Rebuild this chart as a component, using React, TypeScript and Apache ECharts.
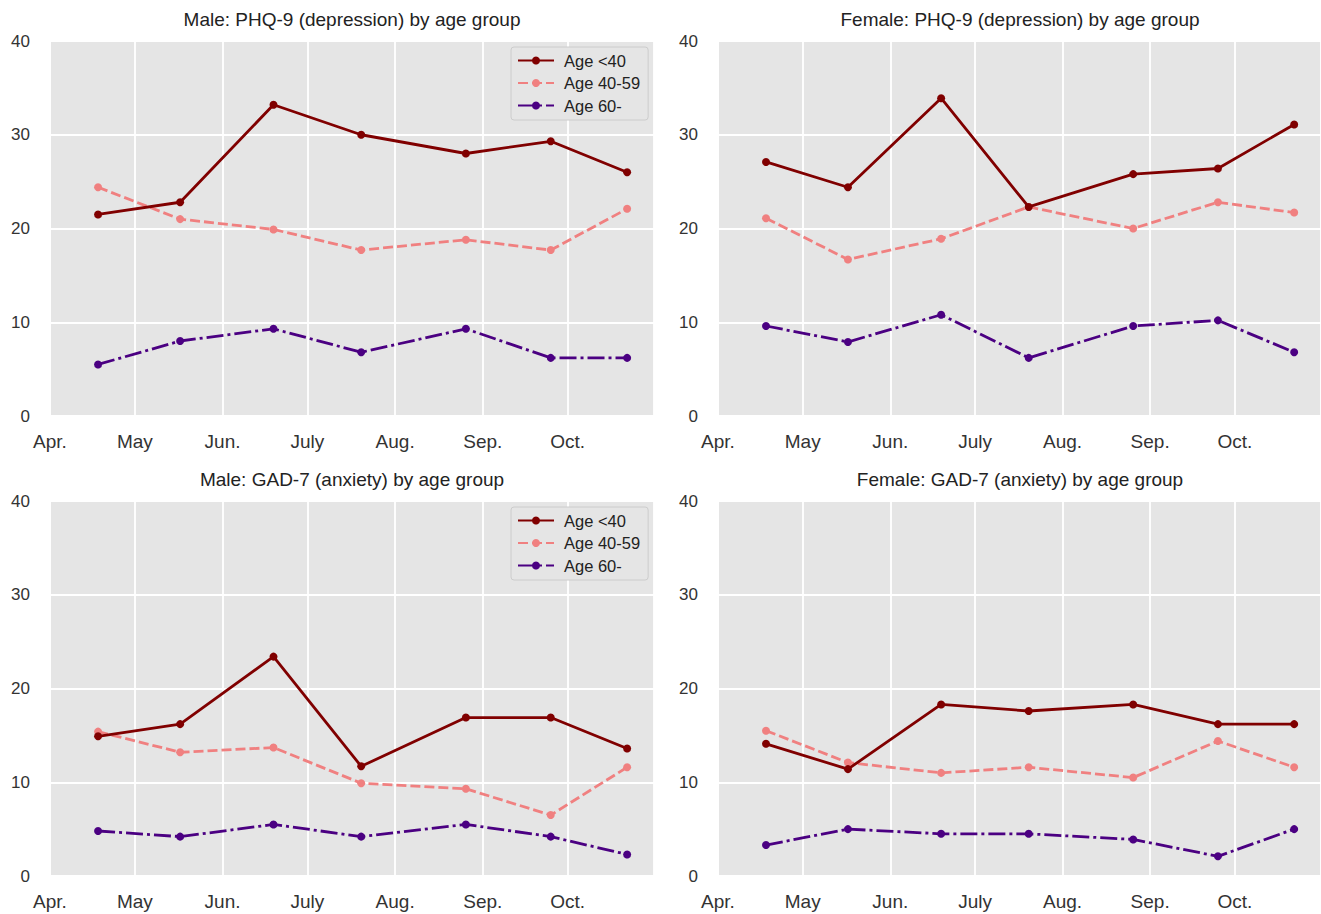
import React, { useEffect, useRef } from "react";
import * as echarts from "echarts";

// ---- data ----
const dates = ["2020-04-18", "2020-05-17", "2020-06-19", "2020-07-20", "2020-08-26", "2020-09-25", "2020-10-22"];
const groups = ["Age <40", "Age 40-59", "Age 60-"];
const xTickLabels = ["Apr.", "May", "Jun.", "July", "Aug.", "Sep.", "Oct."]; // April .. October
const panelTitles = [
  "Male: PHQ-9 (depression) by age group",
  "Female: PHQ-9 (depression) by age group",
  "Male: GAD-7 (anxiety) by age group",
  "Female: GAD-7 (anxiety) by age group",
];

const malePhqU40 = [21.5, 22.8, 33.2, 30.0, 28.0, 29.3, 26.0];
const malePhq4059 = [24.4, 21.0, 19.9, 17.7, 18.8, 17.7, 22.1];
const malePhq60 = [5.5, 8.0, 9.3, 6.8, 9.3, 6.2, 6.2];

const femalePhqU40 = [27.1, 24.4, 33.9, 22.3, 25.8, 26.4, 31.1];
const femalePhq4059 = [21.1, 16.7, 18.9, 22.3, 20.0, 22.8, 21.7];
const femalePhq60 = [9.6, 7.9, 10.8, 6.2, 9.6, 10.2, 6.8];

const maleGadU40 = [14.9, 16.2, 23.4, 11.7, 16.9, 16.9, 13.6];
const maleGad4059 = [15.4, 13.2, 13.7, 9.9, 9.3, 6.5, 11.6];
const maleGad60 = [4.8, 4.2, 5.5, 4.2, 5.5, 4.2, 2.3];

const femaleGadU40 = [14.1, 11.4, 18.3, 17.6, 18.3, 16.2, 16.2];
const femaleGad4059 = [15.5, 12.1, 11.0, 11.6, 10.5, 14.4, 11.6];
const femaleGad60 = [3.3, 5.0, 4.5, 4.5, 3.9, 2.1, 5.0];

const panels = [
  [malePhqU40, malePhq4059, malePhq60],
  [femalePhqU40, femalePhq4059, femalePhq60],
  [maleGadU40, maleGad4059, maleGad60],
  [femaleGadU40, femaleGad4059, femaleGad60],
];

const colors = ["#800000", "#F08080", "#4B0082"];
const lineTypes: any[] = ["solid", [10, 4], [17, 4, 3, 4]];

const FONT = "'Liberation Sans', Arial, Helvetica, sans-serif";

export default function App() {
  const ref = useRef<HTMLDivElement>(null);
  useEffect(() => {
    if (!ref.current) return;
    const chart = echarts.init(ref.current, null, { renderer: "svg" });

    const grids = [
      { left: 50, top: 41, width: 604, height: 375 },
      { left: 718, top: 41, width: 604, height: 375 },
      { left: 50, top: 501, width: 604, height: 375 },
      { left: 718, top: 501, width: 604, height: 375 },
    ];

    const xMin = new Date(2020, 3, 1).getTime();
    const xMax = new Date(2020, 9, 31, 12).getTime();

    const xAxes = grids.map((_, i) => ({
      type: "time",
      gridIndex: i,
      min: xMin,
      max: xMax,
      splitNumber: 7,
      axisLine: { show: false },
      axisTick: { show: false },
      splitLine: { show: true, lineStyle: { color: "#ffffff", width: 1.8 } },
      axisLabel: {
        fontSize: 19,
        color: "#333",
        fontFamily: FONT,
        margin: 16,
        hideOverlap: false,
        formatter: (v: number) => {
          const d = new Date(v);
          if (d.getDate() !== 1 || d.getHours() !== 0) return "";
          const idx = d.getMonth() - 3;
          return idx >= 0 && idx < xTickLabels.length ? xTickLabels[idx] : "";
        },
      },
    }));

    const yAxes = grids.map((_, i) => ({
      type: "value",
      gridIndex: i,
      min: 0,
      max: 40,
      interval: 10,
      axisLine: { show: false },
      axisTick: { show: false },
      splitLine: { show: true, lineStyle: { color: "#ffffff", width: 1.8 } },
      axisLabel: { fontSize: 17, color: "#333", fontFamily: FONT, margin: 20 },
    }));

    const series: any[] = [];
    panels.forEach((p, pi) => {
      p.forEach((vals, gi) => {
        series.push({
          type: "line",
          name: groups[gi],
          xAxisIndex: pi,
          yAxisIndex: pi,
          data: dates.map((d, k) => [d, vals[k]]),
          symbol: "circle",
          symbolSize: 8,
          showSymbol: true,
          itemStyle: { color: colors[gi] },
          lineStyle: { color: colors[gi], width: 2.8, type: lineTypes[gi] },
          emphasis: { disabled: true },
          z: 3 - gi,
        });
      });
    });

    const legendCommon = {
      orient: "vertical",
      left: 511,
      data: groups,
      backgroundColor: "#e5e5e5",
      borderColor: "#cccccc",
      borderWidth: 1,
      borderRadius: 3,
      padding: [5, 8, 6, 6],
      itemWidth: 36,
      itemHeight: 10,
      itemGap: 5.5,
      textStyle: { fontSize: 16.5, color: "#222", fontFamily: FONT, padding: [0, 0, 0, 5] },
      selectedMode: false,
    };

    const titles = grids.map((g, i) => ({
      text: panelTitles[i],
      left: g.left + 302,
      top: i < 2 ? 10 : 470,
      textAlign: "center",
      padding: 0,
      textStyle: { fontSize: 19, fontWeight: "normal", color: "#222", fontFamily: FONT },
    }));

    chart.setOption({
      animation: false,
      backgroundColor: "#ffffff",
      title: titles,
      grid: grids.map((g) => ({ ...g, show: true, backgroundColor: "#e5e5e5", borderWidth: 0 })),
      xAxis: xAxes,
      yAxis: yAxes,
      legend: [
        { ...legendCommon, top: 47 },
        { ...legendCommon, top: 507 },
      ],
      series,
    });

    return () => chart.dispose();
  }, []);

  return (
    <div
      ref={ref}
      style={{ position: "fixed", left: 0, top: 0, width: 1321, height: 914 }}
    />
  );
}
